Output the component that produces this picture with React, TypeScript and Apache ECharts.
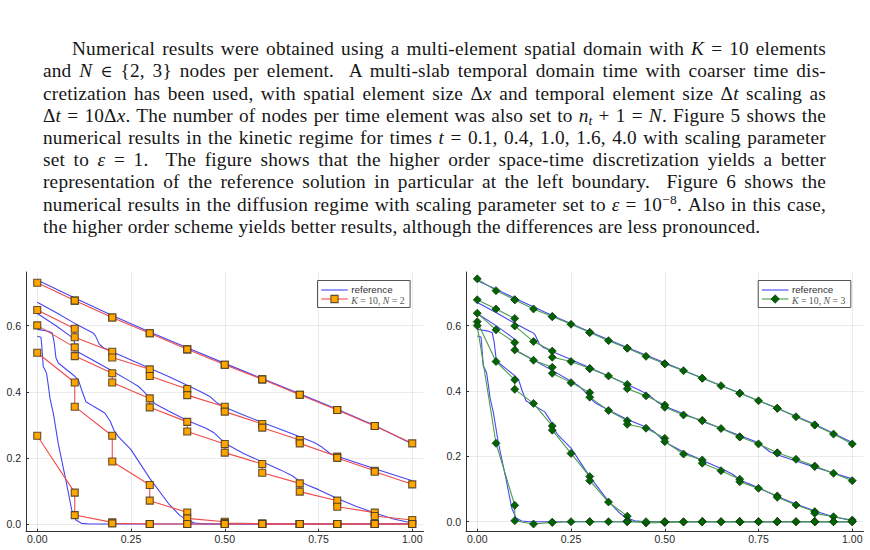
import React, { useEffect, useRef } from "react";
import * as echarts from "echarts";

// ---- axes ----
const xTickValues = [0, 0.25, 0.5, 0.75, 1.0];
const yTickValues = [0, 0.2, 0.4, 0.6];

// ---- reference solution (identical in both panels), one curve per output time ----
const refT40 = [[0, 0.738], [0.1, 0.684], [0.2, 0.631], [0.3, 0.581], [0.4, 0.533], [0.5, 0.486], [0.6, 0.44], [0.7, 0.394], [0.8, 0.347], [0.9, 0.298], [1.0, 0.242]];
const refT16 = [[0, 0.671], [0.05, 0.64], [0.1, 0.607], [0.14, 0.583], [0.15, 0.577], [0.155, 0.57], [0.165, 0.545], [0.175, 0.534], [0.2, 0.521], [0.25, 0.496], [0.3, 0.471], [0.35, 0.446], [0.4, 0.42], [0.44, 0.398], [0.46, 0.386], [0.48, 0.366], [0.5, 0.353], [0.55, 0.33], [0.6, 0.307], [0.65, 0.286], [0.7, 0.264], [0.74, 0.246], [0.76, 0.232], [0.78, 0.214], [0.8, 0.205], [0.85, 0.186], [0.9, 0.167], [0.95, 0.149], [1.0, 0.131]];
const refT10 = [[0, 0.637], [0.05, 0.6], [0.09, 0.567], [0.097, 0.56], [0.103, 0.532], [0.11, 0.52], [0.15, 0.495], [0.2, 0.463], [0.25, 0.43], [0.27, 0.416], [0.285, 0.4], [0.3, 0.38], [0.315, 0.363], [0.35, 0.342], [0.4, 0.313], [0.45, 0.29], [0.47, 0.277], [0.49, 0.256], [0.51, 0.238], [0.55, 0.213], [0.6, 0.188], [0.65, 0.163], [0.68, 0.146], [0.7, 0.129], [0.72, 0.118], [0.75, 0.104], [0.8, 0.077], [0.85, 0.054], [0.9, 0.033], [0.95, 0.015], [1.0, 0.003]];
const refT04 = [[0, 0.589], [0.03, 0.583], [0.04, 0.578], [0.045, 0.55], [0.05, 0.502], [0.056, 0.487], [0.1, 0.447], [0.11, 0.435], [0.12, 0.4], [0.13, 0.37], [0.15, 0.356], [0.18, 0.336], [0.195, 0.31], [0.205, 0.282], [0.215, 0.266], [0.25, 0.225], [0.3, 0.138], [0.35, 0.062], [0.38, 0.026], [0.4, 0.011], [0.42, 0.003], [0.45, 0], [1.0, 0]];
const refT01 = [[0, 0.568], [0.01, 0.565], [0.012, 0.54], [0.016, 0.476], [0.02, 0.468], [0.025, 0.455], [0.03, 0.415], [0.034, 0.38], [0.043, 0.334], [0.056, 0.243], [0.078, 0.123], [0.092, 0.042], [0.103, 0.012], [0.118, 0.002], [0.14, 0], [1.0, 0]];

// ---- K = 10 elements, N = 2 nodes per element (element end points) ----
const nodesN2 = [0, 0.1, 0.1, 0.2, 0.2, 0.3, 0.3, 0.4, 0.4, 0.5, 0.5, 0.6, 0.6, 0.7, 0.7, 0.8, 0.8, 0.9, 0.9, 1.0];
const n2T40 = [0.73, 0.676, 0.676, 0.625, 0.625, 0.577, 0.577, 0.5285, 0.5285, 0.482, 0.482, 0.4377, 0.4377, 0.391, 0.391, 0.345, 0.345, 0.2965, 0.2965, 0.244];
const n2T16 = [0.6475, 0.591, 0.565, 0.521, 0.504, 0.468, 0.448, 0.4085, 0.39, 0.355, 0.34, 0.3026, 0.2915, 0.254, 0.244, 0.204, 0.2, 0.161, 0.158, 0.12];
const n2T10 = [0.601, 0.5345, 0.508, 0.456, 0.428, 0.38, 0.353, 0.309, 0.28, 0.242, 0.216, 0.1815, 0.155, 0.123, 0.098, 0.0706, 0.0524, 0.0343, 0.0242, 0.012];
const n2T04 = [0.518, 0.428, 0.355, 0.267, 0.189, 0.118, 0.0706, 0.035, 0.017, 0.007, 0.003, 0.001, 0.001, 0, 0, 0, 0, 0, 0, 0];
const n2T01 = [0.267, 0.095, 0.027, 0.005, 0.002, 0, 0, 0, 0, 0, 0, 0, 0, 0, 0, 0, 0, 0, 0, 0];

// ---- K = 10 elements, N = 3 nodes per element (end points and midpoint) ----
const nodesN3 = [0, 0.05, 0.1, 0.1, 0.15, 0.2, 0.2, 0.25, 0.3, 0.3, 0.35, 0.4, 0.4, 0.45, 0.5, 0.5, 0.55, 0.6, 0.6, 0.65, 0.7, 0.7, 0.75, 0.8, 0.8, 0.85, 0.9, 0.9, 0.95, 1.0];
const n3T40 = [0.743, 0.707, 0.679, 0.679, 0.651, 0.6275, 0.6275, 0.604, 0.579, 0.579, 0.554, 0.531, 0.531, 0.506, 0.483, 0.483, 0.462, 0.439, 0.439, 0.416, 0.393, 0.393, 0.37, 0.347, 0.347, 0.321, 0.296, 0.296, 0.268, 0.238];
const n3T16 = [0.679, 0.651, 0.622, 0.599, 0.551, 0.522, 0.503, 0.49, 0.469, 0.468, 0.446, 0.42, 0.407, 0.385, 0.357, 0.35, 0.3265, 0.31, 0.309, 0.285, 0.26, 0.259, 0.238, 0.211, 0.21, 0.191, 0.17, 0.169, 0.148, 0.1255];
const n3T10 = [0.638, 0.587, 0.548, 0.5255, 0.494, 0.4725, 0.454, 0.4255, 0.395, 0.381, 0.34, 0.309, 0.298, 0.286, 0.255, 0.245, 0.207, 0.189, 0.179, 0.156, 0.13, 0.122, 0.102, 0.079, 0.0745, 0.051, 0.031, 0.0255, 0.0153, 0.005];
const n3T04 = [0.612, 0.49, 0.434, 0.405, 0.362, 0.293, 0.28, 0.209, 0.138, 0.1255, 0.06, 0.017, 0.003, -0.004, -0.002, -0.002, -0.001, 0, 0, 0, 0, 0, 0, 0, 0, 0, 0, 0, 0, 0];
const n3T01 = [0.6, 0.24, 0.05, 0.003, -0.007, -0.002, -0.002, 0, 0, 0, 0, 0, 0, 0, 0, 0, 0, 0, 0, 0, 0, 0, 0, 0, 0, 0, 0, 0, 0, 0];

const referenceCurves = [refT40, refT16, refT10, refT04, refT01];
const curvesN2 = [n2T40, n2T16, n2T10, n2T04, n2T01];
const curvesN3 = [n3T40, n3T16, n3T10, n3T04, n3T01];

const NAME_REF = "reference";
const NAME_N2 = "K = 10, N = 2";
const NAME_N3 = "K = 10, N = 3";

const BLUE = "#4646f2";
const RED = "#f24a4a";
const GREEN = "#4a9e4a";
const ORANGE = "#ffa500";
const DARKGREEN = "#006400";
const SQUARE_STYLE = { color: ORANGE, borderColor: "rgba(70,55,30,0.85)", borderWidth: 1.1 };
const DIAMOND_STYLE = { color: DARKGREEN, borderColor: "rgba(20,50,20,0.9)", borderWidth: 0.8 };

const zip = (xs: number[], ys: number[]) => xs.map((x, i) => [x, ys[i]]);

function axisPair(gridIndex: number, yMin: number, yMax: number) {
  const common = {
    gridIndex,
    type: "value" as const,
    axisLine: { show: true, onZero: false, lineStyle: { color: "#333", width: 1 } },
    axisTick: { show: true, inside: true, length: 3, lineStyle: { color: "#333" } },
    splitLine: { show: true, lineStyle: { color: "rgba(0,0,0,0.08)", width: 1 } },
    minorTick: { show: false },
  };
  const labelFont = { fontFamily: "Liberation Sans", fontSize: 10.5, color: "#262626" };
  return {
    x: {
      ...common,
      min: -0.03,
      max: 1.03,
      axisTick: { ...common.axisTick, customValues: xTickValues },
      axisLabel: { ...labelFont, margin: 2, customValues: xTickValues, formatter: (v: number) => v.toFixed(2) },
    },
    y: {
      ...common,
      min: yMin,
      max: yMax,
      axisTick: { ...common.axisTick, customValues: yTickValues },
      axisLabel: { ...labelFont, margin: 5, customValues: yTickValues, formatter: (v: number) => v.toFixed(1) },
    },
  };
}

// Legend box drawn as graphic elements: line sample, marker and math label
function legendGraphic(left: number, seriesName: string, lineColor: string, marker: "square" | "diamond") {
  const w = 92.6;
  const lx0 = left + 4.2;
  const lx1 = lx0 + 26.6;
  const cx = (lx0 + lx1) / 2;
  const tx = lx1 + 3.4;
  const y1 = 290;
  const y2 = 299;
  const markerEl =
    marker === "square"
      ? {
          type: "rect",
          shape: { x: cx - 3.6, y: y2 - 3.6, width: 7.2, height: 7.2 },
          style: { fill: SQUARE_STYLE.color, stroke: SQUARE_STYLE.borderColor, lineWidth: SQUARE_STYLE.borderWidth },
        }
      : {
          type: "polygon",
          shape: { points: [[cx, y2 - 4.2], [cx + 4.2, y2], [cx, y2 + 4.2], [cx - 4.2, y2]] },
          style: { fill: DIAMOND_STYLE.color, stroke: DIAMOND_STYLE.borderColor, lineWidth: DIAMOND_STYLE.borderWidth },
        };
  const n = seriesName.slice(-1);
  return {
    type: "group",
    z: 100,
    silent: true,
    children: [
      { type: "rect", shape: { x: left + 0.5, y: 280.5, width: w, height: 27 }, style: { fill: "#fff", stroke: "#555", lineWidth: 1 } },
      { type: "line", shape: { x1: lx0, y1, x2: lx1, y2: y1 }, style: { stroke: BLUE, lineWidth: 1.1 } },
      {
        type: "text",
        x: tx,
        y: 289.6,
        style: { text: NAME_REF, font: '9.8px "Liberation Sans"', fill: "#333", verticalAlign: "middle" },
      },
      { type: "line", shape: { x1: lx0, y1: y2, x2: lx1, y2 }, style: { stroke: lineColor, lineWidth: 1.1 } },
      markerEl,
      {
        type: "text",
        x: tx,
        y: 300.6,
        style: {
          text: `{i|K}{r| = 10, }{i|N}{r| = ${n}}`,
          verticalAlign: "middle",
          rich: {
            i: { fontFamily: "Liberation Serif", fontStyle: "italic", fontSize: 9.8, fill: "#555" },
            r: { fontFamily: "Liberation Serif", fontSize: 9.8, fill: "#555" },
          },
        },
      },
    ],
  };
}

function buildOption() {
  const left = axisPair(0, -0.0233, 0.7625);
  const right = axisPair(1, -0.0306, 0.764);

  const refSeries = (axis: number) =>
    referenceCurves.map((c) => ({
      type: "line",
      name: NAME_REF,
      xAxisIndex: axis,
      yAxisIndex: axis,
      data: c,
      symbol: "none",
      lineStyle: { color: BLUE, width: 1.1 },
      itemStyle: { color: BLUE },
      z: 2,
      silent: true,
    }));

  const n2Series = curvesN2.map((vals) => ({
    type: "line",
    name: NAME_N2,
    xAxisIndex: 0,
    yAxisIndex: 0,
    data: zip(nodesN2, vals),
    symbol: "rect",
    symbolSize: 7,
    lineStyle: { color: RED, width: 1.1 },
    itemStyle: SQUARE_STYLE,
    z: 3,
    silent: true,
  }));

  const n3Series = curvesN3.map((vals) => ({
    type: "line",
    name: NAME_N3,
    xAxisIndex: 1,
    yAxisIndex: 1,
    data: zip(nodesN3, vals),
    symbol: "diamond",
    symbolSize: 8,
    lineStyle: { color: GREEN, width: 1.1 },
    itemStyle: DIAMOND_STYLE,
    z: 3,
    silent: true,
  }));

  return {
    animation: false,
    grid: [
      { left: 26, top: 272, width: 397.5, height: 259.7 },
      { left: 466, top: 272, width: 397.5, height: 259.7 },
    ],
    xAxis: [left.x, right.x],
    yAxis: [left.y, right.y],
    graphic: [legendGraphic(317, NAME_N2, RED, "square"), legendGraphic(757.7, NAME_N3, GREEN, "diamond")],
    series: [...refSeries(0), ...n2Series, ...refSeries(1), ...n3Series],
  };
}

const LINE_TOP = 38.2;
const LINE_STEP = 22.2;

function Line({ i, indent = 0, last = false, children }: { i: number; indent?: number; last?: boolean; children: React.ReactNode }) {
  return (
    <div
      style={{
        position: "absolute",
        left: 43 + indent,
        top: LINE_TOP + i * LINE_STEP,
        width: 783 - indent,
        height: LINE_STEP,
        lineHeight: `${LINE_STEP}px`,
        fontSize: 19.3,
        letterSpacing: "0.2px",
        fontFamily: '"Liberation Serif", serif',
        color: "#161616",
        whiteSpace: "nowrap",
        textAlign: last ? "left" : "justify",
        textAlignLast: last ? "left" : "justify",
      }}
    >
      {children}
    </div>
  );
}

const subStyle: React.CSSProperties = { fontSize: "0.7em", lineHeight: 0, verticalAlign: "-0.25em" };
const supStyle: React.CSSProperties = { fontSize: "0.7em", lineHeight: 0, verticalAlign: "0.55em" };
const relStyle: React.CSSProperties = { fontFamily: '"DejaVu Serif", serif', fontSize: "0.85em" };

export default function App() {
  const ref = useRef<HTMLDivElement>(null);

  useEffect(() => {
    if (!ref.current) return;
    const chart = echarts.init(ref.current, undefined, { renderer: "svg" });
    chart.setOption(buildOption() as any);
    return () => chart.dispose();
  }, []);

  return (
    <div style={{ position: "absolute", left: 0, top: 0, width: 870, height: 550, background: "#fff", overflow: "hidden" }}>
      <div ref={ref} style={{ position: "absolute", left: 0, top: 0, width: 870, height: 550 }} />
      <Line i={0} indent={29}>
        Numerical results were obtained using a multi-element spatial domain with <i>K</i> = 10 elements
      </Line>
      <Line i={1}>
        and <i>N</i> <span style={relStyle}>∈</span> {"{"}2, 3{"}"} nodes per element.&nbsp; A multi-slab temporal domain time with coarser time dis-
      </Line>
      <Line i={2}>
        cretization has been used, with spatial element size Δ<i>x</i> and temporal element size Δ<i>t</i> scaling as
      </Line>
      <Line i={3}>
        Δ<i>t</i> = 10Δ<i>x</i>. The number of nodes per time element was also set to <i>n</i>
        <span style={subStyle}><i>t</i></span> + 1 = <i>N</i>. Figure 5 shows the
      </Line>
      <Line i={4}>
        numerical results in the kinetic regime for times <i>t</i> = 0.1, 0.4, 1.0, 1.6, 4.0 with scaling parameter
      </Line>
      <Line i={5}>
        set to <i>ε</i> = 1.&nbsp; The figure shows that the higher order space-time discretization yields a better
      </Line>
      <Line i={6}>
        representation of the reference solution in particular at the left boundary.&nbsp; Figure 6 shows the
      </Line>
      <Line i={7}>
        numerical results in the diffusion regime with scaling parameter set to <i>ε</i> = 10
        <span style={supStyle}>−8</span>. Also in this case,
      </Line>
      <Line i={8} last>
        the higher order scheme yields better results, although the differences are less pronounced.
      </Line>
    </div>
  );
}
